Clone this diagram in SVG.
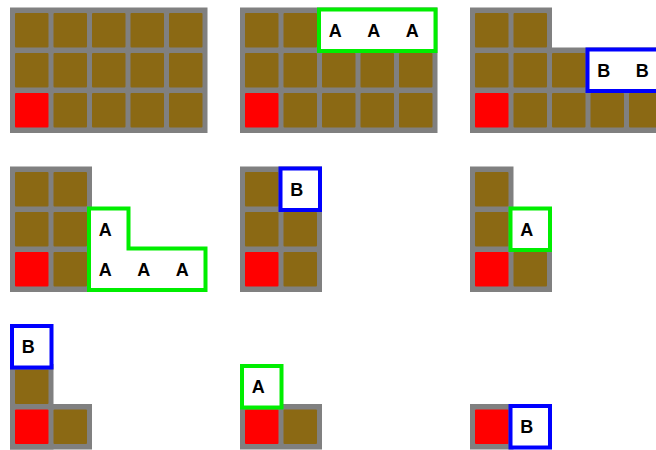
<svg xmlns="http://www.w3.org/2000/svg" width="656" height="450" viewBox="0 0 656 450">
<defs>
<style>
.g{fill:#808080}
.b{fill:#8b6914}
.r{fill:#ff0000}
.hA{fill:#ffffff;stroke:#00ee00;stroke-width:4}
.hB{fill:#ffffff;stroke:#0000ff;stroke-width:4}
.t{font-family:"Liberation Sans",Arial,sans-serif;font-weight:bold;font-size:18px;fill:#000000;text-anchor:middle}
</style>
<rect id="br" class="b" width="33.5" height="34.5" rx="1"/>
<rect id="rd" class="r" width="33.5" height="34.5" rx="1"/>
</defs>
<rect width="656" height="450" fill="#ffffff"/>

<g id="panel1" transform="translate(10,7.5)">
<rect class="g" x="0" y="0" width="197.5" height="125.5"/>
<use href="#br" x="5" y="5.5"/><use href="#br" x="43.5" y="5.5"/><use href="#br" x="82" y="5.5"/><use href="#br" x="120.5" y="5.5"/><use href="#br" x="159" y="5.5"/>
<use href="#br" x="5" y="45.5"/><use href="#br" x="43.5" y="45.5"/><use href="#br" x="82" y="45.5"/><use href="#br" x="120.5" y="45.5"/><use href="#br" x="159" y="45.5"/>
<use href="#rd" x="5" y="85.5"/><use href="#br" x="43.5" y="85.5"/><use href="#br" x="82" y="85.5"/><use href="#br" x="120.5" y="85.5"/><use href="#br" x="159" y="85.5"/>
</g>

<g id="panel2" transform="translate(240,7.5)">
<rect class="g" x="0" y="0" width="197.5" height="125.5"/>
<use href="#br" x="5" y="5.5"/><use href="#br" x="43.5" y="5.5"/>
<use href="#br" x="5" y="45.5"/><use href="#br" x="43.5" y="45.5"/><use href="#br" x="82" y="45.5"/><use href="#br" x="120.5" y="45.5"/><use href="#br" x="159" y="45.5"/>
<use href="#rd" x="5" y="85.5"/><use href="#br" x="43.5" y="85.5"/><use href="#br" x="82" y="85.5"/><use href="#br" x="120.5" y="85.5"/><use href="#br" x="159" y="85.5"/>
<g id="p2-boxA">
<rect class="hA" x="79" y="2" width="116.5" height="41.5"/>
<text class="t" x="95.25" y="29">A</text><text class="t" x="133.75" y="29">A</text><text class="t" x="172.25" y="29">A</text>
</g>
</g>

<g id="panel3" transform="translate(470,7.5)">
<rect class="g" x="0" y="0" width="82" height="45.5"/>
<rect class="g" x="0" y="40" width="197.5" height="85.5"/>
<use href="#br" x="5" y="5.5"/><use href="#br" x="43.5" y="5.5"/>
<use href="#br" x="5" y="45.5"/><use href="#br" x="43.5" y="45.5"/><use href="#br" x="82" y="45.5"/>
<use href="#rd" x="5" y="85.5"/><use href="#br" x="43.5" y="85.5"/><use href="#br" x="82" y="85.5"/><use href="#br" x="120.5" y="85.5"/><use href="#br" x="159" y="85.5"/>
<g id="p3-boxB">
<rect class="hB" x="117.5" y="42" width="78" height="41.5"/>
<text class="t" x="133.75" y="69">B</text><text class="t" x="172.25" y="69">B</text>
</g>
</g>

<g id="panel4" transform="translate(10,166.5)">
<rect class="g" x="0" y="0" width="82" height="125.5"/>
<use href="#br" x="5" y="5.5"/><use href="#br" x="43.5" y="5.5"/>
<use href="#br" x="5" y="45.5"/><use href="#br" x="43.5" y="45.5"/>
<use href="#rd" x="5" y="85.5"/><use href="#br" x="43.5" y="85.5"/>
<g id="p4-boxA">
<path class="hA" d="M79 42 H118.5 V82 H195.5 V123.5 H79 Z"/>
<text class="t" x="95.25" y="69">A</text>
<text class="t" x="95.25" y="109">A</text><text class="t" x="133.75" y="109">A</text><text class="t" x="172.25" y="109">A</text>
</g>
</g>

<g id="panel5" transform="translate(240,166.5)">
<rect class="g" x="0" y="0" width="82" height="125.5"/>
<use href="#br" x="5" y="5.5"/>
<use href="#br" x="5" y="45.5"/><use href="#br" x="43.5" y="45.5"/>
<use href="#rd" x="5" y="85.5"/><use href="#br" x="43.5" y="85.5"/>
<g id="p5-boxB">
<rect class="hB" x="40.5" y="2" width="39.5" height="41.5"/>
<text class="t" x="56.75" y="29">B</text>
</g>
</g>

<g id="panel6" transform="translate(470,166.5)">
<rect class="g" x="0" y="0" width="43.5" height="125.5"/>
<rect class="g" x="0" y="80" width="82" height="45.5"/>
<use href="#br" x="5" y="5.5"/>
<use href="#br" x="5" y="45.5"/>
<use href="#rd" x="5" y="85.5"/><use href="#br" x="43.5" y="85.5"/>
<g id="p6-boxA">
<rect class="hA" x="40.5" y="42" width="39.5" height="41.5"/>
<text class="t" x="56.75" y="69">A</text>
</g>
</g>

<g id="panel7" transform="translate(10,324)">
<rect class="g" x="0" y="40" width="43.5" height="85.5"/>
<rect class="g" x="0" y="80" width="82" height="45.5"/>
<use href="#br" x="5" y="45.5"/>
<use href="#rd" x="5" y="85.5"/><use href="#br" x="43.5" y="85.5"/>
<g id="p7-boxB">
<rect class="hB" x="2" y="2" width="39.5" height="41.5"/>
<text class="t" x="18.25" y="29">B</text>
</g>
</g>

<g id="panel8" transform="translate(240,324)">
<rect class="g" x="0" y="80" width="82" height="45.5"/>
<use href="#rd" x="5" y="85.5"/><use href="#br" x="43.5" y="85.5"/>
<g id="p8-boxA">
<rect class="hA" x="2" y="42" width="39.5" height="41.5"/>
<text class="t" x="18.25" y="69">A</text>
</g>
</g>

<g id="panel9" transform="translate(470,324)">
<rect class="g" x="0" y="80" width="43.5" height="45.5"/>
<use href="#rd" x="5" y="85.5"/>
<g id="p9-boxB">
<rect class="hB" x="40.5" y="82" width="39.5" height="41.5"/>
<text class="t" x="56.75" y="109">B</text>
</g>
</g>
</svg>
